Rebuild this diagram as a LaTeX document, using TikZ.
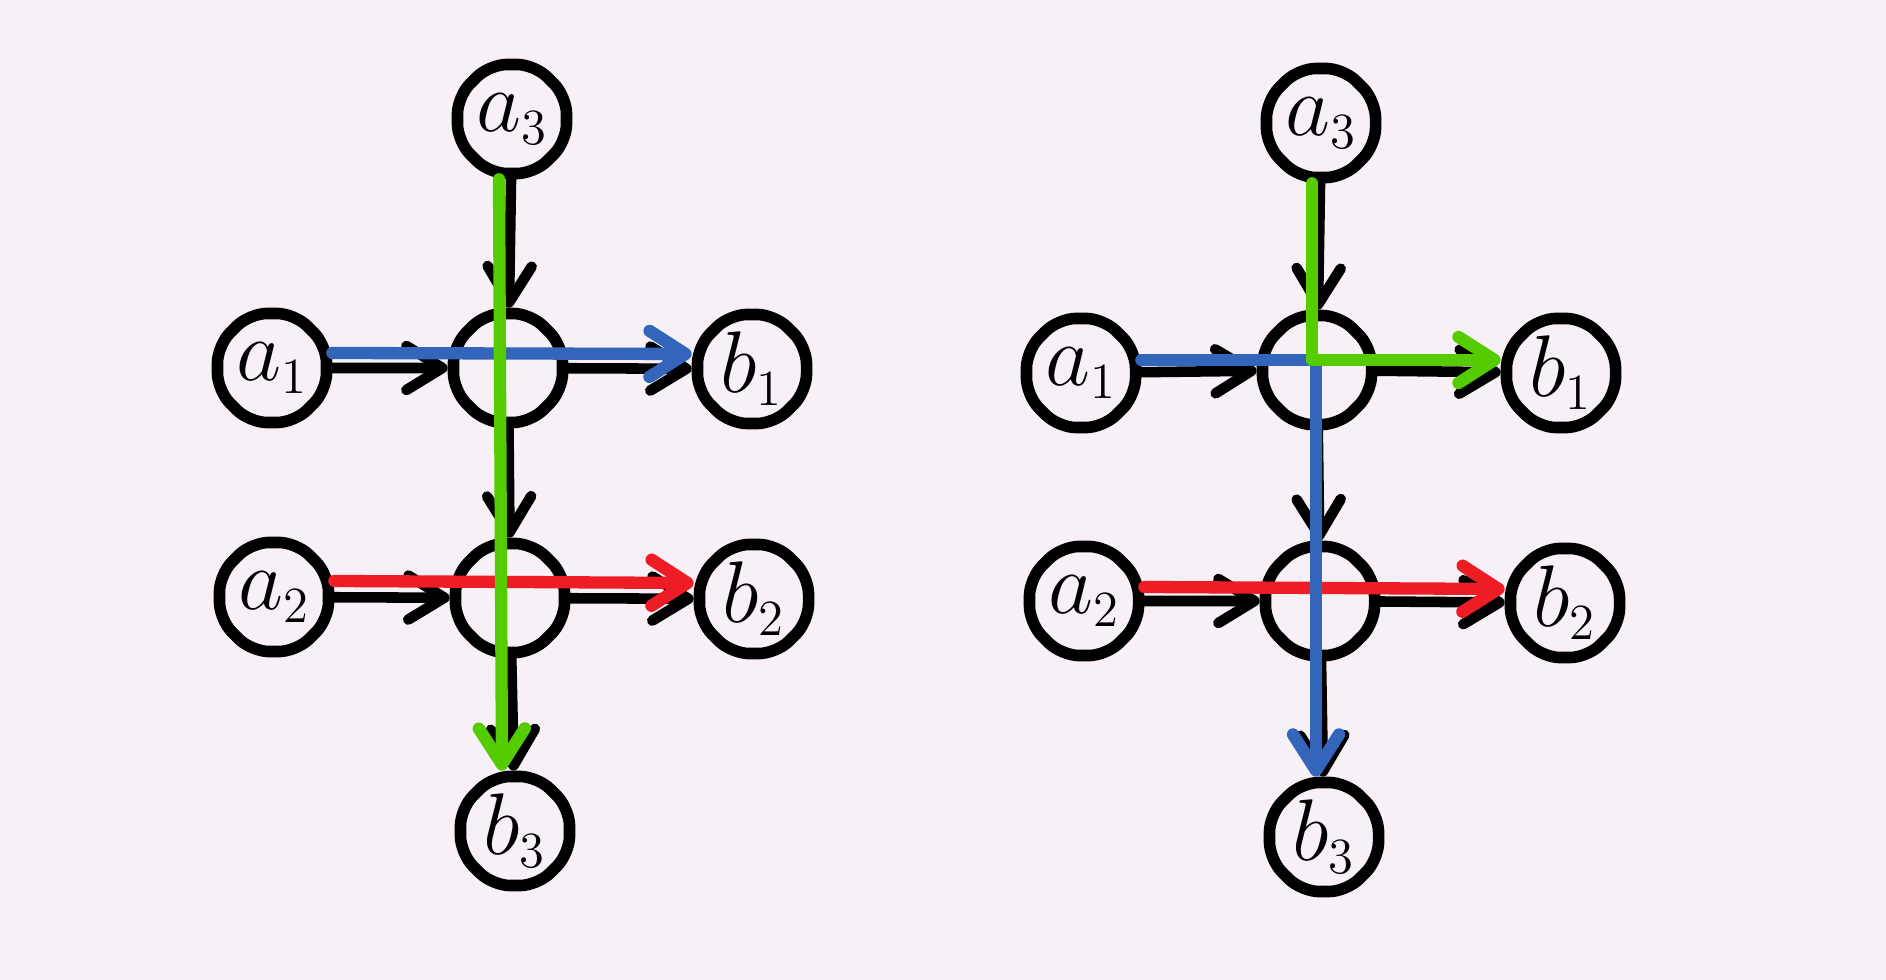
\documentclass[tikz,border=0pt]{standalone}
\usetikzlibrary{shapes.geometric,arrows.meta,calc}
\definecolor{bg}{HTML}{F7F0F7}
\definecolor{myblue}{HTML}{3366BB}
\definecolor{mygreen}{HTML}{55CC00}
\definecolor{myred}{HTML}{EE1C25}
\newcommand{\lbl}[2]{$#1_{\scriptscriptstyle #2}$}
\begin{document}
\begin{tikzpicture}[x=0.01cm,y=-0.01cm,
  nd/.style={regular polygon, regular polygon sides=8, draw=black, line width=3.3pt,
    minimum size=1.18cm, inner sep=0pt, rounded corners=5pt, font=\fontsize{27}{30}\selectfont},
  blk/.style={line width=3pt, draw=black, line cap=round,
    -{Straight Barb[length=0.36cm,width=0.44cm,round]}},
  col/.style={line width=3.5pt, line cap=round, line join=round,
    -{Straight Barb[length=0.36cm,width=0.46cm,round]}}]
\fill[bg] (0,0) rectangle (1886,980);
\useasboundingbox (0,0) rectangle (1886,980);
% left diagram
\node[nd] (la3) at (512,119) {\lbl{a}{3}};
\node[nd] (la1) at (272,368) {\lbl{a}{1}};
\node[nd] (lc1) at (508,368) {};
\node[nd] (lb1) at (752,369) {\lbl{b}{1}};
\node[nd] (la2) at (274,597) {\lbl{a}{2}};
\node[nd] (lc2) at (510,598) {};
\node[nd] (lb2) at (754,599) {\lbl{b}{2}};
\node[nd] (lb3) at (515,831) {\lbl{b}{3}};
\draw[blk] (la3) -- (lc1);
\draw[blk] (la1) -- (lc1);
\draw[blk] (lc1) -- (lb1);
\draw[blk] (lc1) -- (lc2);
\draw[blk] (la2) -- (lc2);
\draw[blk] (lc2) -- (lb2);
\draw[blk] (lc2) -- (lb3);
\draw[col, myblue] ([yshift=0.15cm]la1.east) -- ([yshift=0.15cm]lb1.west);
\draw[col, myred] ([yshift=0.16cm]la2.east) -- ([yshift=0.16cm]lb2.west);
\draw[col, mygreen] ([xshift=-0.13cm]la3.south) -- ([xshift=-0.13cm]lb3.north);
% right diagram
\node[nd] (ra3) at (1321,123) {\lbl{a}{3}};
\node[nd] (ra1) at (1081,373) {\lbl{a}{1}};
\node[nd] (rc1) at (1317,370) {};
\node[nd] (rb1) at (1561,373) {\lbl{b}{1}};
\node[nd] (ra2) at (1084,601) {\lbl{a}{2}};
\node[nd] (rc2) at (1320,601) {};
\node[nd] (rb2) at (1565,603) {\lbl{b}{2}};
\node[nd] (rb3) at (1324,837) {\lbl{b}{3}};
\draw[blk] (ra3) -- (rc1);
\draw[blk] (ra1) -- (rc1);
\draw[blk] (rc1) -- (rb1);
\draw[blk] (rc1) -- (rc2);
\draw[blk] (ra2) -- (rc2);
\draw[blk] (rc2) -- (rb2);
\draw[blk] (rc2) -- (rb3);
\draw[col, myred] ([yshift=0.14cm]ra2.east) -- ([yshift=0.14cm]rb2.west);
\draw[col, myblue] ([yshift=0.13cm]ra1.east) -| ([xshift=-0.08cm]rb3.north);
\draw[col, mygreen] ([xshift=-0.09cm]ra3.south) |- ([yshift=0.13cm]rb1.west);
\end{tikzpicture}
\end{document}
